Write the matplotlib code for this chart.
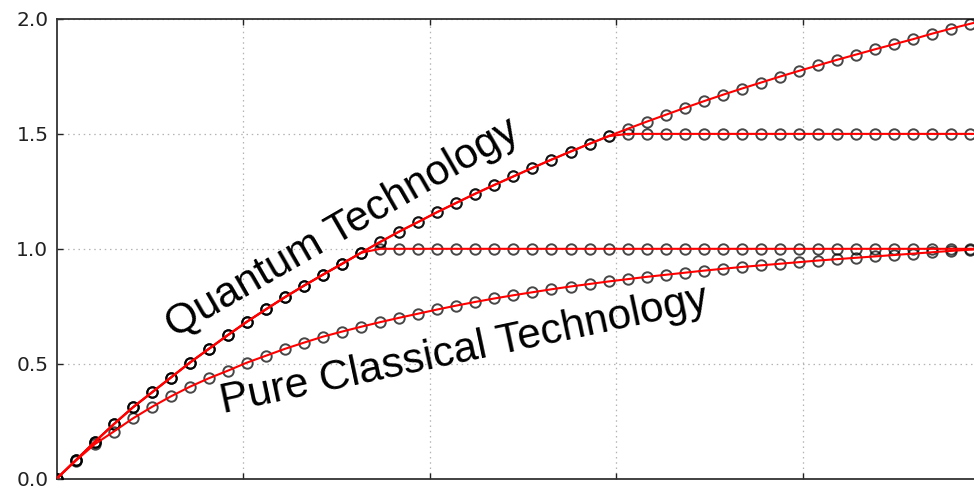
import numpy as np
import matplotlib
matplotlib.use("Agg")
import matplotlib.pyplot as plt

# Sample positions (50 evenly spaced steps on [0, 1])
x_steps = np.linspace(0.0, 1.0, 50)

# Capability growth with quantum technology
quantum = [
    0.000, 0.080, 0.160, 0.237, 0.310, 0.375, 0.440, 0.505, 0.565, 0.625,
    0.683, 0.737, 0.790, 0.840, 0.888, 0.935, 0.983, 1.030, 1.075, 1.117,
    1.160, 1.200, 1.240, 1.278, 1.315, 1.352, 1.388, 1.423, 1.457, 1.490,
    1.522, 1.553, 1.583, 1.613, 1.642, 1.670, 1.697, 1.723, 1.749, 1.774,
    1.798, 1.822, 1.845, 1.868, 1.890, 1.912, 1.936, 1.958, 1.979, 2.000,
]

# Capability growth with purely classical technology
classical = [
    0.000, 0.078, 0.150, 0.205, 0.262, 0.312, 0.358, 0.400, 0.437, 0.470,
    0.505, 0.535, 0.565, 0.592, 0.618, 0.640, 0.661, 0.681, 0.700, 0.718,
    0.736, 0.753, 0.769, 0.784, 0.798, 0.811, 0.824, 0.836, 0.847, 0.858,
    0.868, 0.878, 0.887, 0.896, 0.905, 0.913, 0.921, 0.928, 0.935, 0.942,
    0.949, 0.955, 0.961, 0.967, 0.973, 0.979, 0.985, 0.991, 0.996, 1.000,
]

# Saturation levels for the capped quantum curves
caps = [1.5, 1.0]

y_ticks = [0.0, 0.5, 1.0, 1.5, 2.0]
y_tick_labels = ["0.0", "0.5", "1.0", "1.5", "2.0"]
x_grid = [0.2, 0.4, 0.6, 0.8]

quantum = np.array(quantum)
classical = np.array(classical)

series = [quantum] + [np.minimum(quantum, c) for c in caps] + [classical]

fig = plt.figure(figsize=(9.74, 4.91), dpi=100)
ax = fig.add_axes([0.0582, 0.0251, 0.9574, 0.9363])

for ys in series:
    ax.plot(x_steps, ys, linestyle="none", marker="o", markersize=7.5,
            markerfacecolor="none", markeredgecolor="black",
            markeredgewidth=1.4, alpha=0.72, zorder=3)
for ys in series:
    ax.plot(x_steps, ys, color="red", linewidth=1.5, zorder=4)

ax.set_xlim(0.0, 1.0)
ax.set_ylim(0.0, 2.0)
ax.set_xticks(x_grid)
ax.set_xticklabels([])
ax.set_yticks(y_ticks)
ax.set_yticklabels(y_tick_labels)

ax.grid(True, color="#b4b4b4", linestyle=(0, (1.2, 3)), linewidth=0.9)
ax.set_axisbelow(True)

ax.tick_params(direction="in", length=4.5, width=1.0, top=True, right=True,
               labelsize=14.5, pad=6, colors="#222222", labelcolor="#222222")
for sp in ax.spines.values():
    sp.set_linewidth(1.3)
    sp.set_color("#333333")

for lab in ax.get_yticklabels():
    lab.set_fontfamily("DejaVu Sans")

ax.text(0.1266, 0.613, "Quantum Technology", rotation=30,
        rotation_mode="anchor", ha="left", va="baseline",
        fontsize=30.6, family="Liberation Sans", color="black", zorder=5)
ax.text(0.178, 0.287, "Pure Classical Technology", rotation=12,
        rotation_mode="anchor", ha="left", va="baseline",
        fontsize=30.6, family="Liberation Sans", color="black", zorder=5)

fig.savefig("out.png", dpi=100)
